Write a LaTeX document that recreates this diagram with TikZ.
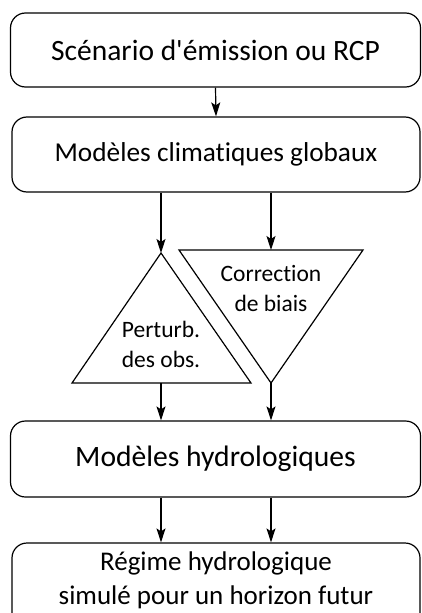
\documentclass[tikz,border=0pt]{standalone}
\usepackage{fontspec}
\setmainfont{Carlito}[Ligatures={TeXOff,NoCommon}]
\usetikzlibrary{arrows.meta}
\begin{document}
\begin{tikzpicture}[x=1pt,y=-1pt,
  box/.style={draw, line width=1.2pt, rounded corners=15pt, inner sep=0pt, align=center},
  lbl/.style={inner sep=0pt, align=center, font=\fontsize{23.5}{30}\selectfont},
  tri/.style={draw, line width=1.2pt, line join=miter},
  arr/.style={draw, line width=1.2pt, -{Stealth[length=14pt,width=9pt,inset=3pt]}}]
\useasboundingbox (0,0) rectangle (422,613);
\clip (0,0) rectangle (422,613);
\node[box, minimum width=410pt, minimum height=74pt, font=\fontsize{29.5}{32}\selectfont] (b1) at (215.5,50) {Scénario d'émission ou RCP};
\node[box, minimum width=408pt, minimum height=75pt, font=\fontsize{27.3}{32}\selectfont] (b2) at (216,154.5) {Modèles climatiques globaux};
\node[box, minimum width=410pt, minimum height=76pt, font=\fontsize{29.6}{34}\selectfont] (b3) at (215.5,459) {Modèles hydrologiques};
\node[box, minimum width=408pt, minimum height=84pt] (b4) at (216,585) {};
\node[inner sep=0pt, font=\fontsize{27}{34}\selectfont, anchor=base] (t4a) at (216,570) {Régime hydrologique};
\node[inner sep=0pt, font=\fontsize{27}{34}\selectfont, anchor=base] (t4b) at (216,604) {simulé pour un horizon futur};
% triangles
\coordinate (la) at (161,253);
\coordinate (lb1) at (72,383);
\coordinate (lb2) at (251,383);
\coordinate (lbm) at (161,383);
\coordinate (rt1) at (179,250);
\coordinate (rt2) at (363,250);
\coordinate (rtm) at (271,250);
\coordinate (ra) at (271,383);
\draw[tri] (la) -- (lb2) -- (lb1) -- cycle;
\draw[tri] (rt1) -- (rt2) -- (ra) -- cycle;
\node[lbl, anchor=base] (p1) at (161,337) {Perturb.};
\node[lbl, anchor=base] (p2) at (161,367) {des obs.};
\node[lbl, anchor=base] (c1) at (271,281) {Correction};
\node[lbl, anchor=base] (c2) at (271,311) {de biais};
% arrows
\draw[arr] (b1.south) -- (b2.north);
\draw[arr] (b2.south -| la) -- (la);
\draw[arr] (b2.south -| rtm) -- (rtm);
\draw[arr] (lbm) -- (b3.north -| lbm);
\draw[arr] (ra) -- (b3.north -| ra);
\draw[arr] (b3.south -| lbm) -- (b4.north -| lbm);
\draw[arr] (b3.south -| ra) -- (b4.north -| ra);
\end{tikzpicture}
\end{document}
